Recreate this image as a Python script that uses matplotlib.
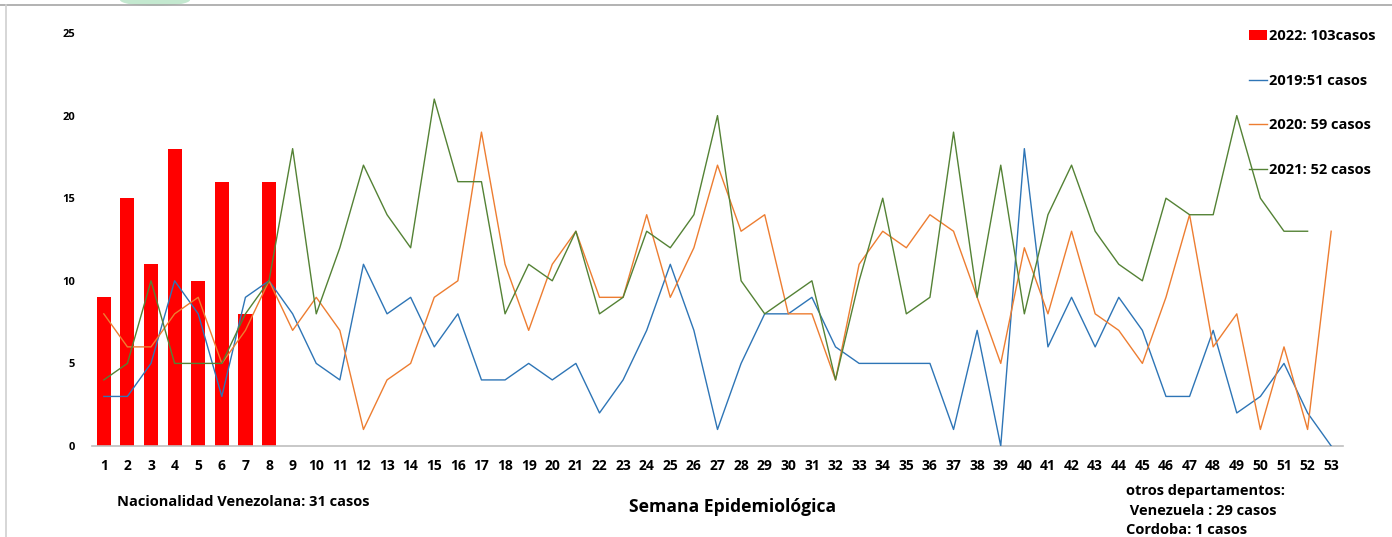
import matplotlib
matplotlib.use("Agg")
import matplotlib.pyplot as plt
from matplotlib.patches import Ellipse
from matplotlib.lines import Line2D
import numpy as np

plt.rcParams['font.family'] = ['Open Sans', 'DejaVu Sans']

weeks = list(range(1, 54))
week_labels = [str(w) for w in weeks]

cases_2022 = [9, 15, 11, 18, 10, 16, 8, 16]

cases_2019 = [3, 3, 5, 10, 8, 3, 9, 10, 8, 5, 4, 11, 8, 9, 6, 8, 4, 4, 5, 4,
              5, 2, 4, 7, 11, 7, 1, 5, 8, 8, 9, 6, 5, 5, 5, 5, 1, 7, 0, 18,
              6, 9, 6, 9, 7, 3, 3, 7, 2, 3, 5, 2, 0]

cases_2020 = [8, 6, 6, 8, 9, 5, 7, 10, 7, 9, 7, 1, 4, 5, 9, 10, 19, 11, 7, 11,
              13, 9, 9, 14, 9, 12, 17, 13, 14, 8, 8, 4, 11, 13, 12, 14, 13, 9, 5, 12,
              8, 13, 8, 7, 5, 9, 14, 6, 8, 1, 6, 1, 13]

cases_2021 = [4, 5, 10, 5, 5, 5, 8, 10, 18, 8, 12, 17, 14, 12, 21, 16, 16, 8, 11, 10,
              13, 8, 9, 13, 12, 14, 20, 10, 8, 9, 10, 4, 10, 15, 8, 9, 19, 9, 17, 8,
              14, 17, 13, 11, 10, 15, 14, 14, 20, 15, 13, 13]

y_ticks = [0, 5, 10, 15, 20, 25]

labels = ["2022: 103casos", "2019:51 casos", "2020: 59 casos", "2021: 52 casos"]
note_left = "Nacionalidad Venezolana: 31 casos"
xlabel = "Semana Epidemiológica"
note_right = ["otros departamentos:", " Venezuela : 29 casos", "Cordoba: 1 casos"]

RED = '#FF0000'
BLUE = '#2E75B6'
ORANGE = '#ED7D31'
GREEN = '#548235'

W, H = 1392, 537
fig = plt.figure(figsize=(W / 100, H / 100), dpi=100)

# frame lines and decorative blob
fig.add_artist(Line2D([0, 1], [1 - 5 / H, 1 - 5 / H], transform=fig.transFigure,
                      color='#A6A6A6', lw=1.2))
fig.add_artist(Line2D([6 / W, 6 / W], [0, 1 - 5 / H], transform=fig.transFigure,
                      color='#D0D0D0', lw=1.2))
fig.add_artist(Ellipse((155 / W, 1 - 0 / H), 70 / W, 12 / H, transform=fig.transFigure,
                       color='#9BD9B0', alpha=0.6, lw=0))

ax = fig.add_axes([92 / W, 1 - 446 / H, (1343 - 92) / W, (446 - 33) / H])

ax.bar(weeks[:len(cases_2022)], cases_2022, width=0.6, color=RED, zorder=2,
       label=labels[0])
ax.plot(weeks[:len(cases_2019)], cases_2019, color=BLUE, lw=1.0, zorder=3, label=labels[1])
ax.plot(weeks[:len(cases_2020)], cases_2020, color=ORANGE, lw=1.0, zorder=3, label=labels[2])
ax.plot(weeks[:len(cases_2021)], cases_2021, color=GREEN, lw=1.0, zorder=3, label=labels[3])

ax.set_xlim(0.5, 53.5)
ax.set_ylim(0, 25)
ax.set_xticks(weeks)
ax.set_xticklabels(week_labels, fontsize=10, fontweight='bold')
ax.set_yticks(y_ticks)
ax.set_yticklabels([str(v) for v in y_ticks], fontsize=8, fontweight='bold')
ax.tick_params(axis='x', length=0, pad=9)
ax.tick_params(axis='y', length=0, pad=12)
for s in ['top', 'right', 'left']:
    ax.spines[s].set_visible(False)
ax.spines['bottom'].set_color('#BFBFBF')
ax.spines['bottom'].set_linewidth(1.2)

handles, lbls = ax.get_legend_handles_labels()
order = [lbls.index(l) for l in labels]
leg = fig.legend([handles[i] for i in order], [lbls[i] for i in order],
                 loc='upper left', bbox_to_anchor=(1249 / W, 1 - 29 / H),
                 frameon=False, prop={'weight': 'bold', 'size': 10.5},
                 labelspacing=2.1, handlelength=1.25, handletextpad=0.15,
                 borderpad=0, borderaxespad=0)

fig.text(117 / W, 1 - 502 / H, note_left, fontsize=10.5, fontweight='bold',
         ha='left', va='center')
fig.text(733 / W, 1 - 507 / H, xlabel, fontsize=12.6, fontweight='bold',
         ha='center', va='center')
for txt, yy in zip(note_right, [491, 511, 530]):
    fig.text(1126 / W, 1 - yy / H, txt, fontsize=10.5, fontweight='bold',
             ha='left', va='center')

fig.savefig('out.png', dpi=100)
